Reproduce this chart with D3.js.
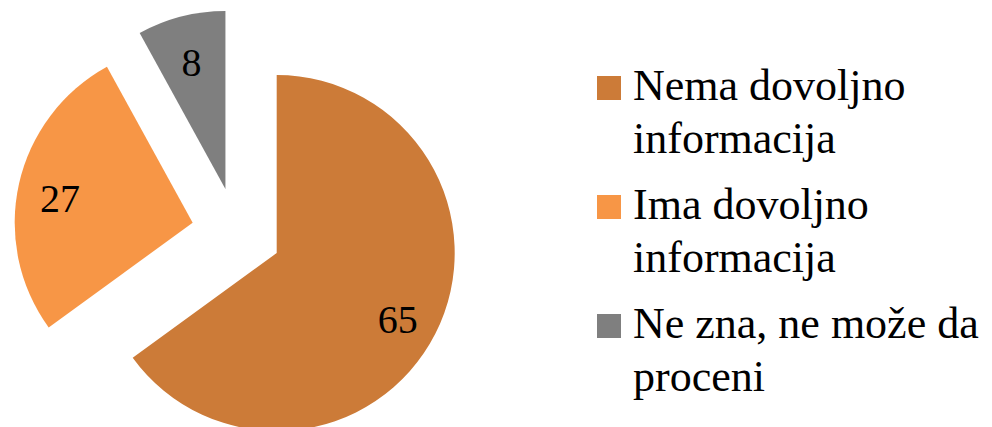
<!DOCTYPE html>
<html>
<head>
<meta charset="utf-8">
<script src="https://cdn.jsdelivr.net/npm/d3@7"></script>
<style>
  html, body { margin: 0; padding: 0; background: #fff; }
  svg text { font-family: "Liberation Serif", "DejaVu Serif", serif; fill: #000; }
</style>
</head>
<body>
<div id="chart"></div>
<script>
// Chart data
const categories = ['Nema dovoljno informacija', 'Ima dovoljno informacija', 'Ne zna, ne može da proceni'];
const values = [65, 27, 8];
const colors = ['#CC7B38', '#F79646', '#7F7F7F'];
// legend labels broken into lines as in the original
const legendLines = [
    ['Nema dovoljno', 'informacija'],
    ['Ima dovoljno', 'informacija'],
    ['Ne zna, ne može da', 'proceni']
];

const width = 992;
const height = 427;

const svg = d3.select('#chart')
    .append('svg')
    .attr('width', width)
    .attr('height', height);

// Pie layout - starts at 12 o'clock, clockwise, in data order
const pie = d3.pie().sort(null).value(d => d.value);
const slices = pie(categories.map((c, i) => ({ name: c, value: values[i], color: colors[i] })));

const cx = 236.6, cy = 232.6;
const radius = 178;
const explode = 45;
const labelRadius = 136;

const arc = d3.arc().innerRadius(0).outerRadius(radius);
const labelArc = d3.arc().innerRadius(labelRadius).outerRadius(labelRadius);

const pieG = svg.append('g').attr('transform', `translate(${cx},${cy})`);

// every slice is pulled out from the centre
function offset(d) {
    const a = (d.startAngle + d.endAngle) / 2;
    return [Math.sin(a) * explode, -Math.cos(a) * explode];
}

const sliceG = pieG.selectAll('g.slice')
    .data(slices)
    .join('g')
    .attr('class', 'slice')
    .attr('transform', d => { const o = offset(d); return `translate(${o[0]},${o[1]})`; });

sliceG.append('path')
    .attr('d', arc)
    .attr('fill', d => d.data.color);

sliceG.append('text')
    .attr('transform', d => `translate(${labelArc.centroid(d)})`)
    .attr('text-anchor', 'middle')
    .attr('dominant-baseline', 'central')
    .attr('dy', 5)
    .attr('font-size', 40)
    .text(d => d.data.value);

// Legend
const legend = svg.append('g').attr('transform', 'translate(597,0)');
const itemTop = [76, 195, 314];

const item = legend.selectAll('g.item')
    .data(slices)
    .join('g')
    .attr('class', 'item')
    .attr('transform', (d, i) => `translate(0,${itemTop[i]})`);

item.append('rect')
    .attr('width', 24)
    .attr('height', 24)
    .attr('fill', d => d.data.color);

item.each(function(d, i) {
    const g = d3.select(this);
    legendLines[i].forEach((line, j) => {
        g.append('text')
            .attr('x', 36)
            .attr('y', 24 + j * 53)
            .attr('font-size', 44)
            .text(line);
    });
});
</script>
</body>
</html>
